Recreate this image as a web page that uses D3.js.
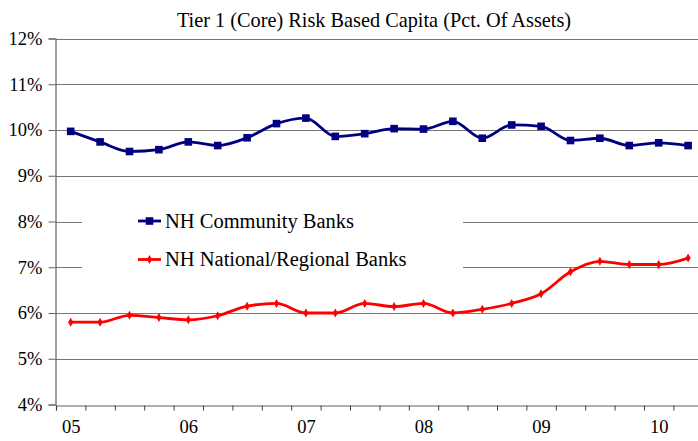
<!DOCTYPE html>
<html>
<head>
<meta charset="utf-8">
<script src="https://cdn.jsdelivr.net/npm/d3@7"></script>
<style>
  html, body { margin: 0; padding: 0; background: #fff; }
  svg { display: block; }
</style>
</head>
<body>
<div id="chart"></div>
<script>
// Quarterly observations, Q1 2005 through Q2 2010
const quarters = ["05Q1","05Q2","05Q3","05Q4","06Q1","06Q2","06Q3","06Q4",
                  "07Q1","07Q2","07Q3","07Q4","08Q1","08Q2","08Q3","08Q4",
                  "09Q1","09Q2","09Q3","09Q4","10Q1","10Q2"];
const yearLabels = ["05","06","07","08","09","10"];
const communityBanks = [9.97, 9.74, 9.53, 9.57, 9.74, 9.66, 9.83, 10.14,
                        10.26, 9.86, 9.92, 10.03, 10.02, 10.19, 9.82, 10.11,
                        10.08, 9.77, 9.82, 9.66, 9.72, 9.66];
const nationalBanks  = [5.80, 5.80, 5.95, 5.90, 5.85, 5.94, 6.15, 6.21,
                        6.00, 6.00, 6.21, 6.14, 6.21, 6.00, 6.08, 6.21,
                        6.42, 6.90, 7.13, 7.06, 7.06, 7.20];
const yTicks = [4, 5, 6, 7, 8, 9, 10, 11, 12];
const seriesNames = ["NH Community Banks", "NH National/Regional Banks"];
const seriesColors = ["#000080", "#ff0000"];

const FONT = '"Liberation Serif", "Times New Roman", serif';
const W = 698, H = 441;
const svg = d3.select("#chart").append("svg").attr("width", W).attr("height", H);

const left = 56, bandW = 29.4;
const x = d3.scaleLinear().domain([-0.5, quarters.length - 0.5])
  .range([left, left + bandW * quarters.length]);
const y = d3.scaleLinear().domain([4, 12]).range([404.5, 38.5]);
const axisY = Math.round(y(4)) + 0.5;

// Title
svg.append("text").attr("x", 374).attr("y", 27).attr("text-anchor", "middle")
  .style("font-family", FONT).style("font-size", "20.3px")
  .text("Tier 1 (Core) Risk Based Capita (Pct. Of Assets)");

// Horizontal gridlines
svg.append("g").selectAll("line").data(yTicks.filter(d => d > 4)).join("line")
  .attr("x1", left).attr("x2", W)
  .attr("y1", d => Math.round(y(d)) + 0.5).attr("y2", d => Math.round(y(d)) + 0.5)
  .attr("stroke", "#767676").attr("stroke-width", 1);

// Y axis
const yAxis = svg.append("g").attr("transform", `translate(${left - 0.5},0)`)
  .call(d3.axisLeft(y).tickValues(yTicks).tickSize(7).tickPadding(6).tickFormat(d => d + "%"));
yAxis.select(".domain").attr("stroke", "#606060").attr("stroke-width", 1.2);
yAxis.selectAll(".tick line").attr("stroke", "#606060");
yAxis.selectAll("text").style("font-size", "18.5px").style("font-family", FONT).attr("fill", "#000");

// X axis: tick marks between quarters, year labels under each first quarter
const boundaries = d3.range(quarters.length + 1).map(i => i - 0.5);
const xAxis = svg.append("g").attr("transform", `translate(0,${axisY})`)
  .call(d3.axisBottom(x).tickValues(boundaries).tickSize(5).tickFormat(""));
xAxis.select(".domain").attr("stroke", "#606060").attr("stroke-width", 1.2);
xAxis.selectAll(".tick line").attr("stroke", "#404040");

const labelIdx = yearLabels.map((d, i) => i * 4);
svg.append("g").attr("transform", `translate(0,${axisY})`)
  .call(d3.axisBottom(x).tickValues(labelIdx).tickSize(0).tickPadding(14)
    .tickFormat((d, i) => yearLabels[i]))
  .call(g => g.select(".domain").remove())
  .selectAll("text").style("font-size", "18.5px").style("font-family", FONT).attr("fill", "#000");

// Legend panel (white background over gridlines)
svg.append("rect").attr("x", 82).attr("y", 197).attr("width", 381).attr("height", 92).attr("fill", "#fff");

const line = d3.line().x((d, i) => x(i)).y(d => y(d)).curve(d3.curveMonotoneX);

// Community banks line with square markers
svg.append("path").datum(communityBanks).attr("d", line).attr("fill", "none")
  .attr("stroke", seriesColors[0]).attr("stroke-width", 2.8).attr("stroke-linejoin", "round");
svg.append("g").selectAll("rect").data(communityBanks).join("rect")
  .attr("x", (d, i) => x(i) - 3.8).attr("y", d => y(d) - 3.8)
  .attr("width", 7.6).attr("height", 7.6).attr("fill", seriesColors[0]);

// National/regional banks line with small diamond markers
svg.append("path").datum(nationalBanks).attr("d", line).attr("fill", "none")
  .attr("stroke", seriesColors[1]).attr("stroke-width", 2.8).attr("stroke-linejoin", "round");
const diamond = "M0,-4.5L2.6,0L0,4.5L-2.6,0Z";
svg.append("g").selectAll("path").data(nationalBanks).join("path")
  .attr("transform", (d, i) => `translate(${x(i)},${y(d)})`)
  .attr("d", diamond).attr("fill", seriesColors[1]);

// Legend entries
const legend = svg.append("g");
seriesNames.forEach((name, k) => {
  const ly = 221 + k * 38.5;
  legend.append("line").attr("x1", 138).attr("x2", 161).attr("y1", ly).attr("y2", ly)
    .attr("stroke", seriesColors[k]).attr("stroke-width", 2.8);
  if (k === 0) {
    legend.append("rect").attr("x", 149.5 - 3.8).attr("y", ly - 3.8).attr("width", 7.6).attr("height", 7.6)
      .attr("fill", seriesColors[k]);
  } else {
    legend.append("path").attr("transform", `translate(149.5,${ly})`).attr("d", diamond).attr("fill", seriesColors[k]);
  }
  legend.append("text").attr("x", 165).attr("y", ly).attr("dy", "0.34em")
    .style("font-family", FONT).style("font-size", "20.5px").text(name);
});
</script>
</body>
</html>
